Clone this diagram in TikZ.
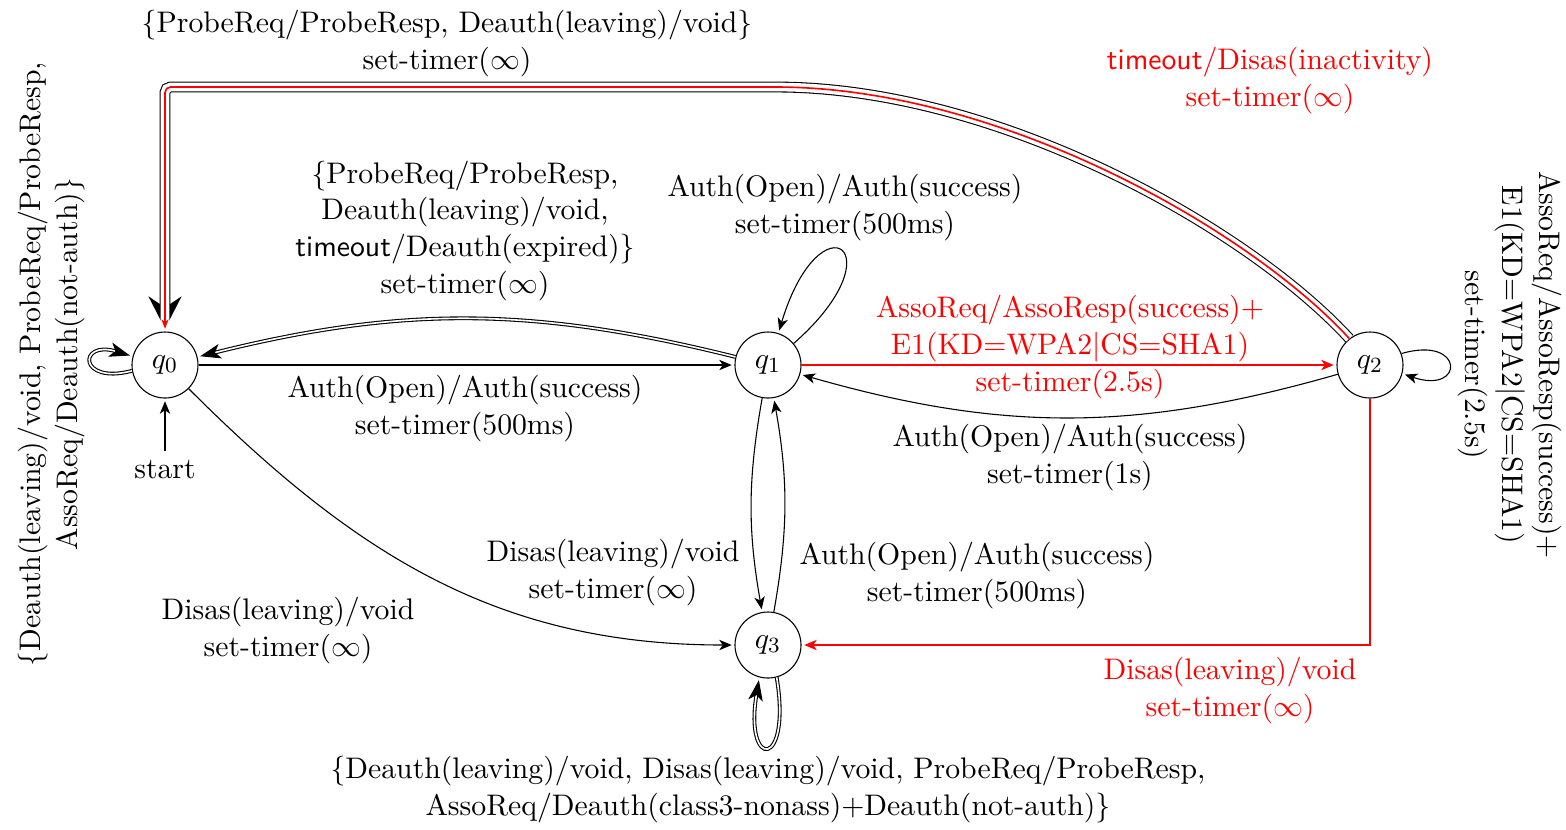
\documentclass[tikz,border=0pt]{standalone}
\usetikzlibrary{arrows.meta}
\begin{document}
\begin{tikzpicture}[x=0.012937cm,y=-0.012937cm,
  font=\fontsize{10.95}{13.6}\selectfont,
  shorten >=1pt, line width=0.4pt,
  >={Stealth[length=4.6pt,width=3.8pt,inset=1.3pt]},
  st/.style={draw, circle, minimum size=24.3pt, inner sep=0pt},
  lbl/.style={align=center, inner sep=0pt},
  dbl/.style={double, double distance=0.6pt, -{Stealth[length=7.6pt,width=5.4pt,inset=2pt,color=black,fill=black]}},
  bigblack/.style={line width=4pt, rounded corners=2pt, -{Stealth[length=11.8pt,width=12pt,inset=4pt]}},
  bigwhite/.style={white, line width=3.2pt, rounded corners=2pt},
  bigred/.style={red, line width=0.6pt, rounded corners=2pt, -{Stealth[length=3.4pt,width=2.6pt,inset=1pt]}},
]
\useasboundingbox (0,0) rectangle (1566,829);

% states
\node[st] (q0) at (165,365) {$q_0$};
\node[st] (q1) at (768,365) {$q_1$};
\node[st] (q2) at (1370,365) {$q_2$};
\node[st] (q3) at (768,645) {$q_3$};
\node (start) at (165,470) {start};

% transitions
\draw[->] (start) -- (q0);
\draw[->] (q0) -- (q1);
\draw[dbl] (q1) to[bend right=14] (q0);
\draw[->] (q1.40) .. controls (900,250) and (820,195) .. (q1.72);
\draw[->,red] (q1) -- (q2);
\draw[->] (q2) to[bend left=16] (q1);
\draw[->] (q2.20) .. controls (1465,335) and (1465,395) .. (q2.-15);
\draw[->] (q1) to[bend right=10] (q3);
\draw[->] (q3) to[bend right=10] (q1);
\draw[->] (q0) to[out=-45,in=180] (q3);
\draw[->,red] (q2) |- (q3);
\draw[dbl] (q3.-75) .. controls (792,770) and (744,770) .. (q3.-105);
\draw[dbl] (q0.190) .. controls (78,385) and (78,340) .. (q0.165);

% long return edge q2 -> q0: black border, white gap, red core
\coordinate (bendA) at (770,87);
\coordinate (cornerA) at (165,87);
\draw[bigblack] (q2.128) .. controls (1250,230) and (1000,87) .. (bendA) -- (cornerA) -- (q0);
\draw[bigwhite] (q2.128) .. controls (1250,230) and (1000,87) .. (bendA) -- (cornerA) -- (q0);
\draw[bigred] (q2.128) .. controls (1250,230) and (1000,87) .. (bendA) -- (cornerA) -- (q0);

% transition labels
\node[lbl] (lTop) at (447,44) {\{ProbeReq/ProbeResp, Deauth(leaving)/void\}\\set-timer($\infty$)};
\node[lbl,red] (lTimeout) at (1270,81) {\textsf{timeout}/Disas(inactivity)\\set-timer($\infty$)};
\node[lbl] (lBack) at (465,231) {\{ProbeReq/ProbeResp,\\Deauth(leaving)/void,\\\textsf{timeout}/Deauth(expired)\}\\set-timer($\infty$)};
\node[lbl] (lLoopOne) at (845,208) {Auth(Open)/Auth(success)\\set-timer(500ms)};
\node[lbl,red] (lAsso) at (1070,347) {AssoReq/AssoResp(success)+\\E1(KD=WPA2$|$CS=SHA1)\\set-timer(2.5s)};
\node[lbl] (lAuth) at (465,409) {Auth(Open)/Auth(success)\\set-timer(500ms)};
\node[lbl] (lAuthTwo) at (1070,458) {Auth(Open)/Auth(success)\\set-timer(1s)};
\node[lbl] (lDisOne) at (613,573) {Disas(leaving)/void\\set-timer($\infty$)};
\node[lbl] (lAuthThree) at (977,576) {Auth(Open)/Auth(success)\\set-timer(500ms)};
\node[lbl] (lDisZero) at (288,631) {Disas(leaving)/void\\set-timer($\infty$)};
\node[lbl,red] (lDisTwo) at (1230,691) {Disas(leaving)/void\\set-timer($\infty$)};
\node[lbl] (lLoopThree) at (768,790) {\{Deauth(leaving)/void, Disas(leaving)/void, ProbeReq/ProbeResp,\\AssoReq/Deauth(class3-nonass)+Deauth(not-auth)\}};
\node[lbl,rotate=90] (lLoopZero) at (52,364) {\{Deauth(leaving)/void, ProbeReq/ProbeResp,\\AssoReq/Deauth(not-auth)\}};
\node[lbl,rotate=-90] (lLoopTwo) at (1510,365) {AssoReq/AssoResp(success)+\\E1(KD=WPA2$|$CS=SHA1)\\set-timer(2.5s)};
\end{tikzpicture}
\end{document}
